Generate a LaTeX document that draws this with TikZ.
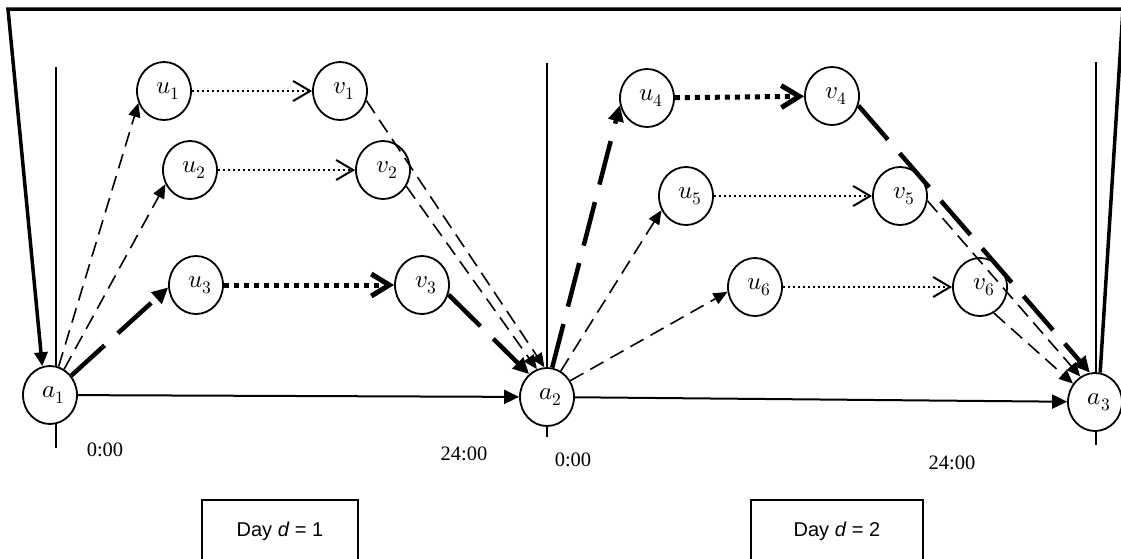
\documentclass[tikz,border=0pt]{standalone}
\usepackage{fontspec}
\usepackage{unicode-math}
\setmainfont{Liberation Serif}
\setmathfont{Latin Modern Math}
\newfontfamily\daysans{Liberation Sans}
\usetikzlibrary{arrows.meta,shapes.geometric}

\tikzset{
    stop/.style={ellipse, draw, line width=1.8pt, fill=white,
        minimum width=54pt, minimum height=58pt, inner sep=0pt,
        font=\fontsize{25}{27}\selectfont,
        execute at begin node=\hspace*{8pt}},
    axis/.style={line width=2pt, -{Triangle[length=15pt,width=14pt]}},
    tick/.style={line width=1.8pt},
    frame/.style={line width=3.5pt, -{Triangle[length=14pt,width=13pt]}},
    thindash/.style={line width=1.6pt, dash pattern=on 15pt off 8pt,
        -{Triangle[length=14pt,width=12pt]}},
    thickdash/.style={line width=4.5pt, dash pattern=on 45pt off 18pt,
        -{Triangle[length=16pt,width=15pt]}},
    thindot/.style={line width=2pt, dash pattern=on 2.5pt off 2.5pt,
        -{Straight Barb[length=17pt,width=20pt,line width=2pt]}},
    thickdot/.style={line width=5pt, dash pattern=on 5pt off 5pt,
        -{Straight Barb[length=18pt,width=22pt]}},
    clock/.style={font=\fontsize{20.5}{22}\selectfont},
    daybox/.style={draw, line width=1.4pt, minimum height=62pt,
        font=\daysans\fontsize{20}{22}\selectfont}
}

\begin{document}
\begin{tikzpicture}[x=1pt, y=-1pt]
    \useasboundingbox (0,0) rectangle (1121,558);

    % day boundaries
    \draw[tick] (56,67) -- (56,448);
    \draw[tick] (547,63) -- (547,437);
    \draw[tick] (1096,62) -- (1096,445);

    % arrival nodes
    \node[stop](a1) at (50,395) {$a_1$};
    \node[stop](a2) at (547,397) {$a_2$};
    \node[stop](a3) at (1095,402) {$a_3$};

    % day 1
    \node[stop](u1) at (164,91) {$u_1$};
    \node[stop](v1) at (340,91) {$v_1$};
    \node[stop](u2) at (190,170) {$u_2$};
    \node[stop](v2) at (383,170) {$v_2$};
    \node[stop](u3) at (196,285) {$u_3$};
    \node[stop](v3) at (422,285) {$v_3$};

    % day 2
    \node[stop](u4) at (647,98) {$u_4$};
    \node[stop](v4) at (832,96) {$v_4$};
    \node[stop](u5) at (686,196) {$u_5$};
    \node[stop](v5) at (900,196) {$v_5$};
    \node[stop](u6) at (755,287) {$u_6$};
    \node[stop](v6) at (980,287) {$v_6$};

    \draw[axis] (a1) -- (a2);
    \draw[axis] (a2) -- (a3);

    \draw[thindash] (a1) -- (u1.205);
    \draw[thindash] (a1) -- (u2.210);
    \draw[thickdash] (a1) -- (u3.185);
    \draw[thindot] (u1) -- (v1);
    \draw[thindot] (u2) -- (v2);
    \draw[thickdot] (u3) -- (v3);
    \draw[thindash] (v1.-20) -- (a2.95);
    \draw[thindash] (v2.-35) -- (a2.110);
    \draw[thickdash] (v3.-20) -- (a2.128);

    \draw[thickdash] (a2.80) -- (u4.195);
    \draw[thindash] (a2.62) -- (u5.210);
    \draw[thindash] (a2.35) -- (u6.190);
    \draw[thickdot] (u4) -- (v4);
    \draw[thindot] (u5) -- (v5);
    \draw[thindot] (u6) -- (v6);
    \draw[thickdash] (v4.-20) -- (a3.100);
    \draw[thindash] (v5.-10) -- (a3.120);
    \draw[thindash] (v6.-62) -- (a3.140);

    % loop back over both days
    \draw[frame] (a3.80) -- (1123,9) -- (8,9) -- (a1.105);

    \node[clock](t1) at (105,450) {0:00};
    \node[clock](t2) at (464,454) {24:00};
    \node[clock](t3) at (573,460) {0:00};
    \node[clock](t4) at (952,463) {24:00};

    \node[daybox, minimum width=156pt](day1) at (280,531) {Day \textit{d} = 1};
    \node[daybox, minimum width=172pt](day2) at (837,531) {Day \textit{d} = 2};
\end{tikzpicture}
\end{document}
